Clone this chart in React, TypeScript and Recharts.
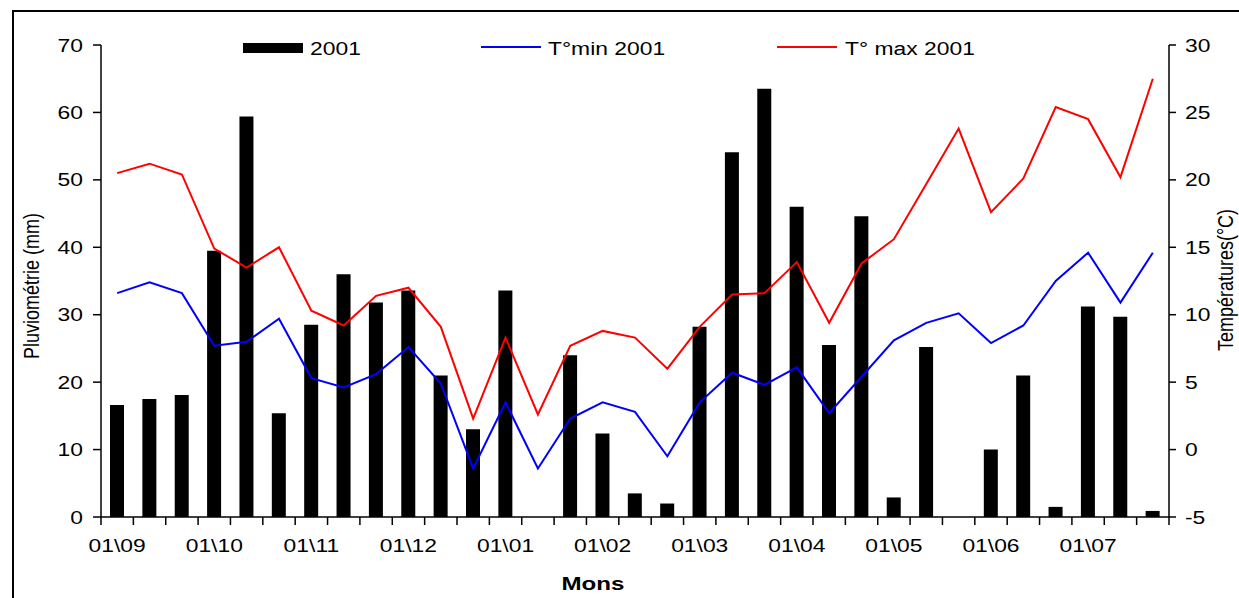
import React from 'react';
import { ComposedChart, Bar, Line, XAxis, YAxis } from 'recharts';

// Pluviométrie par décade (mm), sept. 2001 -> juil. 2002
const rain = [
  16.6, 17.5, 18.1, 39.5, 59.4, 15.4, 28.5, 36.0, 31.8, 33.6, 21.0,
  13.0, 33.6, 0, 24.0, 12.4, 3.5, 2.0, 28.2, 54.1, 63.5, 46.0,
  25.5, 44.6, 2.9, 25.2, 0, 10.0, 21.0, 1.5, 31.2, 29.7, 0.9,
];
const tMin = [
  11.6, 12.4, 11.6, 7.7, 8.0, 9.7, 5.3, 4.6, 5.6, 7.6, 4.9,
  -1.4, 3.5, -1.4, 2.3, 3.5, 2.8, -0.5, 3.5, 5.7, 4.8, 6.1,
  2.7, 5.4, 8.1, 9.4, 10.1, 7.9, 9.2, 12.5, 14.6, 10.9, 14.6,
];
const tMax = [
  20.5, 21.2, 20.4, 14.9, 13.5, 15.0, 10.3, 9.2, 11.4, 12.0, 9.1,
  2.3, 8.3, 2.6, 7.7, 8.8, 8.3, 6.0, 9.1, 11.5, 11.6, 13.9,
  9.4, 13.8, 15.6, 19.7, 23.8, 17.6, 20.1, 25.4, 24.5, 20.2, 27.5,
];
// one label every 3 decades (start of month)
const monthLabels = [
  '01\\09', '01\\10', '01\\11', '01\\12', '01\\01', '01\\02',
  '01\\03', '01\\04', '01\\05', '01\\06', '01\\07',
];
const rainTicks = [0, 10, 20, 30, 40, 50, 60, 70];
const tempTicks = [-5, 0, 5, 10, 15, 20, 25, 30];

const W = 1239;
const H = 598;
const PLOT_LEFT = 101;
const PLOT_RIGHT = 1169;
const PLOT_TOP = 45;
const PLOT_BOTTOM = 517;
const BAND = (PLOT_RIGHT - PLOT_LEFT) / rain.length;
const FONT = '"Liberation Sans", Arial, sans-serif';
const SX = 1.27; // the original picture is stretched horizontally

const data = rain.map((r, i) => ({ x: i + 0.5, rain: r, tmin: tMin[i], tmax: tMax[i] }));
const boundaryTicks = rain.map((_, i) => i).concat(rain.length);

const StretchText = ({ x, y, anchor, children, size = 18, weight = 'normal' }: any) => (
  <text
    transform={`translate(${x},${y}) scale(${SX},1)`}
    textAnchor={anchor}
    dominantBaseline="central"
    fontSize={size}
    fontWeight={weight}
    fontFamily={FONT}
    fill="#000"
  >
    {children}
  </text>
);

const XTick = ({ x, payload }: any) => {
  const v = payload.value;
  if (v % 3 !== 0 || v >= rain.length) return <g />;
  return (
    <StretchText x={x + BAND / 2} y={PLOT_BOTTOM + 28} anchor="middle">
      {monthLabels[v / 3]}
    </StretchText>
  );
};

const LeftTick = ({ x, y, payload }: any) => (
  <StretchText x={x} y={y} anchor="end">{payload.value}</StretchText>
);

const RightTick = ({ x, y, payload }: any) => (
  <StretchText x={x} y={y} anchor="start">{payload.value}</StretchText>
);

// rotated axis title, stretched across its thickness
const VerticalTitle = ({ posX, posY, text }: any) => (
  <text
    transform={`translate(${posX},${posY}) rotate(-90) scale(1,${SX})`}
    textAnchor="middle"
    dominantBaseline="central"
    fontSize={18}
    fontFamily={FONT}
    fill="#000"
  >
    {text}
  </text>
);

const BottomTitle = ({ posX, posY, text }: any) => (
  <StretchText x={posX} y={posY} anchor="middle" size={19} weight="bold">{text}</StretchText>
);

const legendText: React.CSSProperties = {
  position: 'absolute',
  fontFamily: FONT,
  fontSize: 18,
  lineHeight: '18px',
  transform: `scaleX(${SX})`,
  transformOrigin: 'left center',
  whiteSpace: 'nowrap',
  color: '#000',
};

const ChartLegend = () => (
  <div style={{ position: 'absolute', left: 0, top: 0, width: W, height: 70, pointerEvents: 'none' }}>
    <div style={{ position: 'absolute', left: 243, top: 43, width: 60, height: 10, background: '#000' }} />
    <div style={{ ...legendText, left: 310, top: 40 }}>2001</div>
    <div style={{ position: 'absolute', left: 481, top: 46, width: 60, height: 2, background: '#0000ff' }} />
    <div style={{ ...legendText, left: 548, top: 40 }}>T°min 2001</div>
    <div style={{ position: 'absolute', left: 777, top: 46, width: 60, height: 2, background: '#ff0000' }} />
    <div style={{ ...legendText, left: 845, top: 40 }}>T° max 2001</div>
  </div>
);

export default function App() {
  return (
    <div style={{ position: 'absolute', left: 0, top: 0, width: W, height: H, overflow: 'hidden', background: '#fff' }}>
      <div
        style={{
          position: 'absolute',
          left: 12,
          top: 10,
          width: W,
          height: H,
          border: '2px solid #000',
        }}
      />
      <div style={{ position: 'absolute', left: 0, top: 0 }}>
        <ComposedChart
          width={W}
          height={H}
          data={data}
          margin={{ top: PLOT_TOP, right: 0, bottom: 0, left: 0 }}
        >
          <XAxis
            type="number"
            dataKey="x"
            domain={[0, rain.length]}
            ticks={boundaryTicks}
            interval={0}
            height={H - PLOT_BOTTOM}
            tickSize={8}
            axisLine={{ stroke: '#000', strokeWidth: 1.5 }}
            tickLine={{ stroke: '#000', strokeWidth: 1.5 }}
            tick={<XTick />}
            label={<BottomTitle posX={593} posY={583} text="Mons" />}
          />
          <YAxis
            yAxisId="rain"
            orientation="left"
            width={PLOT_LEFT}
            domain={[0, 70]}
            ticks={rainTicks}
            interval={0}
            tickSize={8}
            tickMargin={10}
            axisLine={{ stroke: '#000', strokeWidth: 1.5 }}
            tickLine={{ stroke: '#000', strokeWidth: 1.5 }}
            tick={<LeftTick />}
            label={<VerticalTitle posX={31} posY={286} text="Pluviométrie (mm)" />}
          />
          <YAxis
            yAxisId="temp"
            orientation="right"
            width={W - PLOT_RIGHT}
            domain={[-5, 30]}
            ticks={tempTicks}
            interval={0}
            tickSize={7}
            tickMargin={9}
            axisLine={{ stroke: '#000', strokeWidth: 1.5 }}
            tickLine={{ stroke: '#000', strokeWidth: 1.5 }}
            tick={<RightTick />}
            label={<VerticalTitle posX={1225} posY={280} text="Températures(°C)" />}
          />
          <Bar yAxisId="rain" dataKey="rain" fill="#000" barSize={14} isAnimationActive={false} />
          <Line
            yAxisId="temp"
            type="linear"
            dataKey="tmin"
            stroke="#0000ff"
            strokeWidth={2}
            dot={false}
            isAnimationActive={false}
          />
          <Line
            yAxisId="temp"
            type="linear"
            dataKey="tmax"
            stroke="#ff0000"
            strokeWidth={2}
            dot={false}
            isAnimationActive={false}
          />
        </ComposedChart>
      </div>
      <ChartLegend />
    </div>
  );
}
